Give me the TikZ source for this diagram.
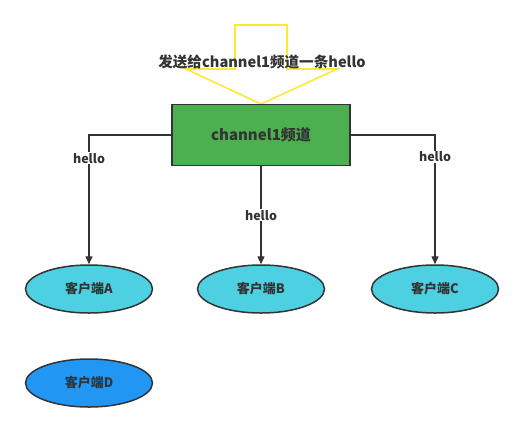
\documentclass[tikz,border=0pt]{standalone}
\usepackage{fontspec}
\setmainfont{Noto Sans CJK SC}
\usepackage{xcolor}
\usepackage{tikz}
\usetikzlibrary{shapes.geometric, arrows.meta, positioning, calc}
\definecolor{inkdark}{HTML}{333333}
\definecolor{channelgreen}{HTML}{4CAF50}
\definecolor{clientcyan}{HTML}{4DD0E1}
\definecolor{clientblue}{HTML}{2196F3}
\definecolor{pushyellow}{HTML}{FFE833}
\tikzset{
  lbl/.style={font=\fontsize{12.5}{14}\selectfont\bfseries, text=inkdark, fill=white, inner sep=1pt},
  chanbox/.style={fill=channelgreen, draw=inkdark, line width=1.5pt, minimum width=178pt,
                  minimum height=61pt, font=\fontsize{15}{17}\selectfont\bfseries, text=inkdark},
  client/.style={ellipse, fill=#1, draw=inkdark, line width=1.5pt, minimum width=127pt,
                 minimum height=48pt, font=\fontsize{13}{15}\selectfont\bfseries, text=inkdark},
  client/.default=clientcyan,
  flow/.style={-{Triangle[length=8pt, width=7pt]}, line width=1.4pt, color=inkdark},
}
\begin{document}
\begin{tikzpicture}[x=1pt, y=-1pt]
  \useasboundingbox (0,0) rectangle (526,434);
  % push arrow
  \draw[pushyellow, line width=1.6pt, line join=miter]
    (235,25) -- (287,25) -- (287,69) -- (337,69) -- (261,104) -- (186,69) -- (235,69) -- cycle;
  \node[font=\fontsize{14.6}{16}\selectfont\bfseries, text=inkdark] (msg) at (262,62) {发送给channel1频道一条hello};
  % channel and clients
  \node[chanbox] (chan) at (261,135) {channel1频道};
  \node[client] (cliA) at (89,289) {客户端A};
  \node[client] (cliB) at (261,289) {客户端B};
  \node[client] (cliC) at (435,289) {客户端C};
  \node[client=clientblue] (cliD) at (89,383) {客户端D};
  % connectors
  \draw[flow] (chan.west) -| (cliA.north) node[lbl, pos=0.59] {hello};
  \draw[flow] (chan.south) -- (cliB.north) node[lbl, midway] {hello};
  \draw[flow] (chan.east) -| (cliC.north) node[lbl, pos=0.585] {hello};
\end{tikzpicture}
\end{document}
